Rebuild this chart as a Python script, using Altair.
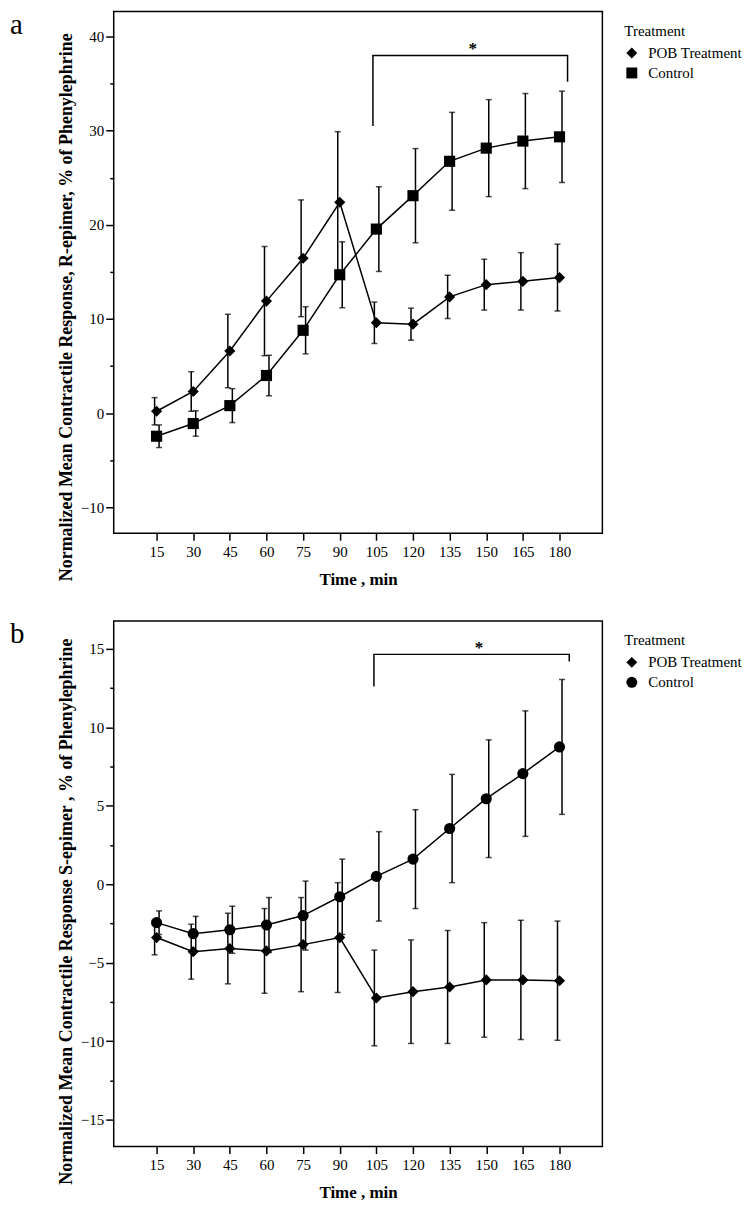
import altair as alt
import pandas as pd

# ---------------- data ----------------
times = [15, 30, 45, 60, 75, 90, 105, 120, 135, 150, 165, 180]
groups = ["POB Treatment", "Control"]

a_pob_mean = [0.2, 2.3, 6.6, 11.9, 16.45, 22.4, 9.6, 9.45, 12.35, 13.65, 14.0, 14.4]
a_pob_err = [1.45, 2.1, 3.9, 5.8, 6.2, 7.5, 2.2, 1.7, 2.3, 2.7, 3.05, 3.55]
a_ctl_mean = [-2.45, -1.1, 0.8, 4.0, 8.8, 14.7, 19.55, 23.1, 26.75, 28.15, 28.9, 29.35]
a_ctl_err = [1.2, 1.35, 1.8, 2.15, 2.5, 3.5, 4.5, 5.0, 5.2, 5.15, 5.05, 4.85]

b_pob_mean = [-3.4, -4.3, -4.1, -4.25, -3.85, -3.4, -7.25, -6.85, -6.55, -6.1, -6.1, -6.15]
b_pob_err = [1.1, 1.75, 2.25, 2.7, 3.0, 3.5, 3.05, 3.3, 3.6, 3.65, 3.8, 3.8]
b_ctl_mean = [-2.45, -3.15, -2.9, -2.6, -2.0, -0.8, 0.5, 1.6, 3.55, 5.45, 7.05, 8.75]
b_ctl_err = [0.75, 1.1, 1.5, 1.75, 2.2, 2.4, 2.85, 3.15, 3.45, 3.75, 4.0, 4.3]

a_bracket_x = [103.6, 103.6, 183.3, 183.3]
a_bracket_y = [30.5, 38.0, 38.0, 35.2]
a_star = (144.5, 38.0)
b_bracket_x = [104.0, 104.0, 184.0, 184.0]
b_bracket_y = [12.6, 14.65, 14.65, 14.2]
b_star = (147.0, 14.65)

x_ticks = times
a_y_ticks = list(range(-10, 45, 5))          # labelled every 10
b_y_ticks = [v / 2 for v in range(-30, 35, 5)]  # labelled every 5

SERIF = "Liberation Serif"


def long_df(pob_m, pob_e, ctl_m, ctl_e):
    rows = []
    for g, ms, es in [(groups[0], pob_m, pob_e), (groups[1], ctl_m, ctl_e)]:
        for t, m, e in zip(times, ms, es):
            rows.append({"time": t, "mean": m, "lo": m - e, "hi": m + e, "group": g})
    return pd.DataFrame(rows)


def panel(df, ydom, yticks, major, ytitle, title_y, shapes, bx, by, star, letter, height):
    xs = alt.Scale(domain=[-2.56, 197.56], nice=False, zero=False)
    ys = alt.Scale(domain=ydom, nice=False, zero=False)
    xaxis = alt.Axis(values=x_ticks, title="Time , min", grid=False, domain=False,
                     tickSize=7, tickWidth=1.5, tickColor="black",
                     labelFont=SERIF, labelFontSize=15, labelColor="black", labelPadding=4,
                     titleFont=SERIF, titleFontSize=17, titleFontWeight="bold",
                     titleColor="black", titlePadding=12, format="d")
    test = f"abs(datum.value % {major}) < 0.001"
    yaxis = alt.Axis(values=yticks, title=ytitle, grid=False, domain=False,
                     tickSize=alt.condition(test, alt.value(8), alt.value(4)),
                     tickWidth=1.5, tickColor="black",
                     labelExpr=f"{test} ? datum.label : ''",
                     labelFont=SERIF, labelFontSize=15, labelColor="black", labelPadding=2,
                     titleFont=SERIF, titleFontSize=18, titleFontWeight="bold",
                     titleColor="black", titleY=title_y, titleX=-38)
    X = lambda f: alt.X(f, type="quantitative", scale=xs, axis=xaxis)
    Y = lambda f: alt.Y(f, type="quantitative", scale=ys, axis=yaxis)

    dfp = df[df["group"] == groups[0]]
    dfc = df[df["group"] == groups[1]]

    layers = []
    for sub, off in [(dfp, -2), (dfc, 2.5)]:
        base = alt.Chart(sub)
        layers.append(base.mark_rule(color="black", strokeWidth=1.5, xOffset=off).encode(
            x=X("time"), y=Y("lo"), y2="hi"))
        layers.append(base.mark_tick(color="black", orient="horizontal", size=6,
                                     thickness=1.5, xOffset=off).encode(x=X("time"), y=Y("lo")))
        layers.append(base.mark_tick(color="black", orient="horizontal", size=6,
                                     thickness=1.5, xOffset=off).encode(x=X("time"), y=Y("hi")))
    lines = alt.Chart(df).mark_line(color="black", strokeWidth=1.5).encode(
        x=X("time"), y=Y("mean"), detail="group:N")
    pts = alt.Chart(df).mark_point(filled=True, color="black", opacity=1, size=125).encode(
        x=X("time"), y=Y("mean"),
        shape=alt.Shape("group:N", scale=alt.Scale(domain=groups, range=shapes),
                        legend=alt.Legend(title="Treatment", orient="none", legendX=512,
                                          legendY=12, titleFont=SERIF, titleFontSize=15,
                                          titleFontWeight="normal", titleColor="black",
                                          labelFont=SERIF, labelFontSize=15, labelColor="black",
                                          symbolFillColor="black", symbolStrokeWidth=0,
                                          symbolSize=120, rowPadding=4, titlePadding=7,
                                          labelOffset=9, padding=0)))
    bdf = pd.DataFrame({"x": bx, "y": by, "o": list(range(len(bx)))})
    bracket = alt.Chart(bdf).mark_line(color="black", strokeWidth=1.5).encode(
        x=X("x"), y=Y("y"), order="o:Q")
    sdf = pd.DataFrame({"x": [star[0]], "y": [star[1]], "t": ["*"]})
    startxt = alt.Chart(sdf).mark_text(font=SERIF, fontSize=17, fontWeight="bold",
                                       baseline="alphabetic", dy=-1, color="black").encode(
        x=X("x"), y=Y("y"), text="t:N")
    ldf = pd.DataFrame({"t": [letter]})
    lettertxt = alt.Chart(ldf).mark_text(font=SERIF, fontSize=29, align="left",
                                         baseline="alphabetic", color="black").encode(
        x=alt.value(-104), y=alt.value(22), text="t:N")
    return alt.layer(bracket, startxt, lettertxt, *layers, lines, pts).properties(
        width=490, height=height,
        view=alt.ViewBackground(stroke="black", strokeWidth=1.5, fill="white"))


dfa = long_df(a_pob_mean, a_pob_err, a_ctl_mean, a_ctl_err)
dfb = long_df(b_pob_mean, b_pob_err, b_ctl_mean, b_ctl_err)

pa = panel(dfa, [-12.75, 42.65], a_y_ticks, 10,
           "Normalized Mean Contractile Response, R-epimer, % of Phenylephrine", 296,
           ["diamond", "square"], a_bracket_x, a_bracket_y, a_star, "a", 523)
pb = panel(dfb, [-16.72, 16.78], b_y_ticks, 5,
           "Normalized Mean Contractile Response  S-epimer , % of Phenylephrine", 291,
           ["diamond", "circle"], b_bracket_x, b_bracket_y, b_star, "b", 527)

chart = alt.vconcat(pa, pb, spacing=31).resolve_scale(
    shape="independent", x="independent", y="independent").resolve_legend(
    shape="independent").properties(
    padding={"left": 1, "top": 0, "right": 0, "bottom": 0}).configure(
    background="white").configure_view(
    stroke="black", strokeWidth=1.5).configure_axis(
    labelFont=SERIF, labelFontSize=15, labelColor="black")

chart.save("out.html", embed_options={"renderer": "svg", "actions": False})
